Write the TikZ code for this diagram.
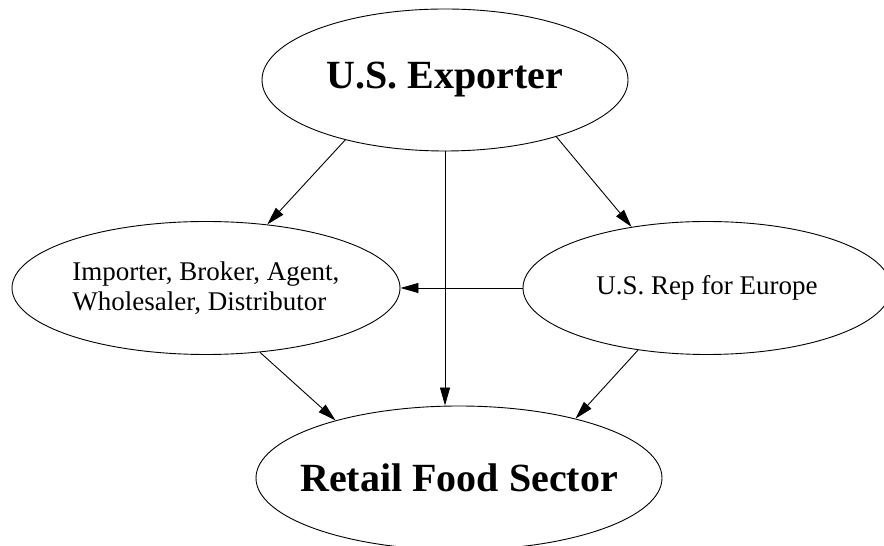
\documentclass[tikz,border=0pt]{standalone}
\usepackage{fontspec}
\setmainfont{Liberation Serif}
\usepackage{tikz}
\usetikzlibrary{shapes,arrows.meta}

\begin{document}
\begin{tikzpicture}[x=1pt,y=1pt,
    party/.style={ellipse, draw, line width=0.9pt, inner sep=0pt},
    big/.style={party, font=\fontsize{40}{44}\selectfont\bfseries},
    small/.style={party, font=\fontsize{27}{30}\selectfont},
    flow/.style={line width=0.9pt, -{Triangle[length=18pt,width=10pt]}}]
    \useasboundingbox (0,0) rectangle (884,546);
    \node[big, minimum width=366pt, minimum height=142pt] (exporter) at (445,466) {U.S. Exporter};
    \node[small, align=left, minimum width=388pt, minimum height=133pt] (importer) at (206,258) {Importer, Broker, Agent,\\Wholesaler, Distributor};
    \node[small, minimum width=368pt, minimum height=133pt] (rep) at (707,258) {U.S. Rep for Europe};
    \node[big, inner xsep=-16pt, minimum width=406pt, minimum height=144pt] (retail) at (459,68) {Retail Food Sector};
    \draw[flow] (exporter.211) -- (importer.46);
    \draw[flow] (exporter.333) -- (rep.141);
    \draw[flow] (exporter.south) -- (exporter.south |- retail.north); % straight down
    \draw[flow] (rep.west) -- (importer.east);
    \draw[flow] (importer.310) -- (retail.155);
    \draw[flow] (rep.222) -- (retail.27);
\end{tikzpicture}
\end{document}
